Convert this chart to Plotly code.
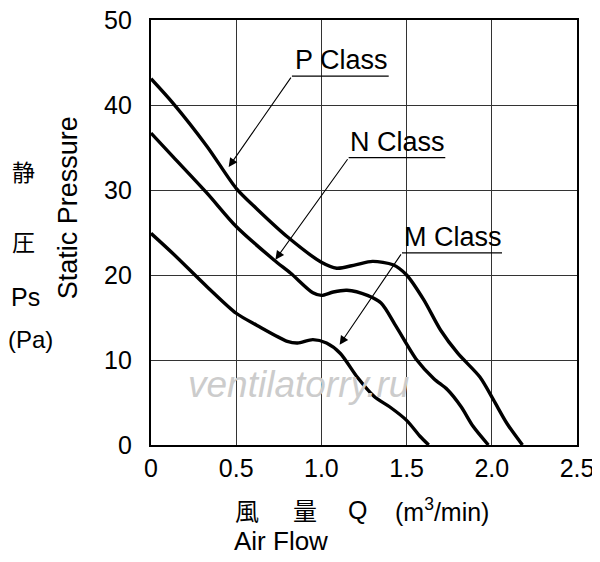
import plotly.graph_objects as go

# ---- data ----
p_x = [0, 0.13, 0.33, 0.5, 0.62, 0.8, 1.0, 1.09, 1.2, 1.3, 1.42, 1.5, 1.6, 1.7, 1.8, 1.93, 2.01, 2.09, 2.18]
p_y = [43.1, 40.2, 35.1, 30.2, 27.8, 24.5, 21.5, 20.8, 21.2, 21.6, 21.2, 20.0, 17.1, 13.5, 10.8, 8.0, 5.3, 2.5, 0]

n_x = [0, 0.13, 0.33, 0.5, 0.72, 0.82, 0.95, 1.0, 1.07, 1.15, 1.27, 1.35, 1.44, 1.56, 1.66, 1.74, 1.82, 1.89, 1.98]
n_y = [36.7, 33.9, 29.6, 25.7, 21.8, 20.2, 17.9, 17.6, 18.0, 18.2, 17.6, 16.7, 13.9, 10.0, 7.8, 6.5, 4.5, 2.2, 0]

m_x = [0, 0.13, 0.33, 0.5, 0.62, 0.8, 0.86, 0.95, 1.03, 1.11, 1.21, 1.31, 1.4, 1.5, 1.58, 1.63]
m_y = [24.9, 22.5, 18.6, 15.5, 14.1, 12.2, 12.0, 12.4, 12.0, 10.8, 8.0, 5.7, 4.5, 2.9, 1.0, 0]

x_ticks = [0, 0.5, 1.0, 1.5, 2.0, 2.5]
x_tick_labels = ["0", "0.5", "1.0", "1.5", "2.0", "2.5"]
y_ticks = [0, 10, 20, 30, 40, 50]
y_tick_labels = ["0", "10", "20", "30", "40", "50"]

class_names = ["P Class", "N Class", "M Class"]
# label underline (left x, right x, y) and arrow tip (x, y)
label_lines = [(0.827, 1.395, 43.4), (1.16, 1.727, 33.8), (1.473, 2.06, 22.6)]
arrow_tips = [(0.456, 32.7), (0.73, 21.8), (1.107, 11.8)]

FONT = "Liberation Sans, Arial, sans-serif"
CJK = "Noto Sans CJK JP"

# page body has an 8px default margin: compensate so the photo lines up
OFF = 8
W, H = 600, 562
PW, PH = 426.0, 425.0
L = 150.7 - OFF
T = 20 - OFF
R = W - L - PW
B = H - T - PH


def pp(px, py):
    # reference-picture pixel -> paper coords
    return (px - OFF - L) / PW, (T + PH - (py - OFF)) / PH


fig = go.Figure()
for xs, ys in [(p_x, p_y), (n_x, n_y), (m_x, m_y)]:
    fig.add_trace(go.Scatter(x=xs, y=ys, mode="lines",
                             line=dict(color="black", width=3.4, shape="spline", smoothing=0.8),
                             showlegend=False, hoverinfo="skip"))

ann = []
shapes = []
for name, (x0, x1, yl), (tx, ty) in zip(class_names, label_lines, arrow_tips):
    shapes.append(dict(type="line", xref="x", yref="y", x0=x0, x1=x1, y0=yl, y1=yl,
                       line=dict(color="black", width=1.2)))
    ann.append(dict(x=tx, y=ty, ax=x0, ay=yl, xref="x", yref="y", axref="x", ayref="y",
                    text="", showarrow=True, arrowhead=2, arrowsize=1.6, arrowwidth=1.1,
                    arrowcolor="black"))
    ann.append(dict(x=(x0 + x1) / 2 + 0.005, y=yl, xref="x", yref="y", text=name,
                    showarrow=False, xanchor="center", yanchor="bottom", yshift=-1,
                    font=dict(family=FONT, size=27, color="black")))


def label(txt, px, py, fam, sz, **kw):
    ax_, ay_ = pp(px, py)
    d = dict(x=ax_, y=ay_, xref="paper", yref="paper", text=txt, showarrow=False,
             xanchor="center", yanchor="middle", font=dict(family=fam, size=sz, color="black"))
    d.update(kw)
    ann.append(d)


# watermark
ax_, ay_ = pp(298, 384)
ann.append(dict(x=ax_, y=ay_, xref="paper", yref="paper", text="<i>ventilatorry.ru</i>",
                showarrow=False, xanchor="center", yanchor="middle",
                font=dict(family=FONT, size=37, color="#cccccc")))

# left y labels
label("静", 23, 171, CJK, 23)
label("圧", 23, 241, CJK, 23)
label("Ps", 25, 297, FONT, 25)
label("(Pa)", 30, 339, FONT, 24)
label("Static Pressure", 68, 208, FONT, 27, textangle=-90)

# x axis titles
label("風", 247, 510, CJK, 24)
label("量", 305, 510, CJK, 24)
label("Q", 357, 510, FONT, 25)
label("(m<sup>3</sup>/min)", 442, 510, FONT, 25)
label("Air Flow", 232, 541, FONT, 26, xanchor="left")

fig.update_layout(
    width=W, height=H,
    margin=dict(l=L, r=R, t=T, b=B, pad=0, autoexpand=False),
    paper_bgcolor="white", plot_bgcolor="white",
    annotations=ann, shapes=shapes,
    font=dict(family=FONT, color="black"),
)
fig.update_xaxes(range=[0, 2.5], tickvals=x_ticks, ticktext=x_tick_labels,
                 showgrid=True, gridcolor="#333333", gridwidth=1,
                 showline=True, linecolor="black", linewidth=2.2, mirror=True,
                 ticks="", ticklabelstandoff=0, zeroline=False, automargin=False,
                 ticklabeloverflow="allow",
                 tickfont=dict(family=FONT, size=25, color="black"))
fig.update_yaxes(range=[0, 50], tickvals=y_ticks, ticktext=y_tick_labels,
                 showgrid=True, gridcolor="#333333", gridwidth=1,
                 showline=True, linecolor="black", linewidth=2.2, mirror=True,
                 ticks="", ticklabelstandoff=12, zeroline=False, automargin=False,
                 ticklabeloverflow="allow",
                 tickfont=dict(family=FONT, size=25, color="black"))

fig.write_html("out.html")
